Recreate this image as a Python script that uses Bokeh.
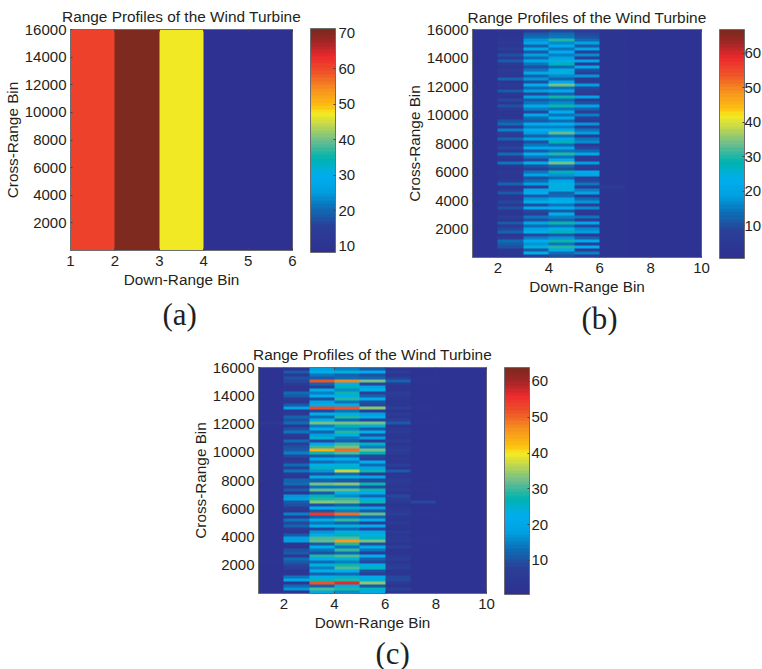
import numpy as np
from bokeh.embed import file_html
from bokeh.resources import INLINE
from bokeh.plotting import figure
from bokeh.layouts import row, column
from bokeh.models import (LinearColorMapper, ColorBar, FixedTicker, LinearAxis, Range1d, Spacer, Title)

TITLE = "Range Profiles of the Wind Turbine"
XLABEL = "Down-Range Bin"
YLABEL = "Cross-Range Bin"
Y_TICKS = [2000, 4000, 6000, 8000, 10000, 12000, 14000, 16000]

# Panel (a): range columns 1-2, 2-3, 3-4, 4-5, 5-6
a_values = [61, 71.4, 47, 8.3, 8.3]
a_x_ticks = [1, 2, 3, 4, 5, 6]
a_cb_ticks = [10, 20, 30, 40, 50, 60, 70]
a_cb_range = [8.3, 71.4]

# Panel (b): rows listed from the top (16000) to the bottom (1)
b_col_2 = [3,3,4,4,5,4,7,4,10,6,11,5,4,6,5,4,12,4,5,4,11,4,3,9,4,10,5,4,3,4,10,13,5,16,8,6,12,4,5,9,4,
           13,5,3,15,4,3,5,4,4,6,12,3,5,11,4,4,9,5,10,4,3,7,4,11,5,9,12,4,6,13,11,10,4,4,3]
b_col_3 = [7,11,13,18,21,12,22,11,19,13,21,15,10,14,22,12,18,10,23,13,19,9,20,11,14,22,16,9,21,13,11,22,
           16,23,19,12,20,10,15,22,11,23,14,9,24,10,7,14,20,10,13,19,8,21,23,11,18,24,10,22,9,7,15,10,
           21,13,20,24,9,16,23,18,25,11,24,8]
b_col_4 = [9,13,15,30,17,22,14,23,16,20,24,28,13,24,25,17,12,22,34,15,22,12,29,13,17,29,14,23,15,22,13,23,
           16,24,33,14,22,28,13,21,15,30,14,23,34,13,10,28,18,13,21,24,25,24,12,13,22,24,15,23,11,24,16,12,
           29,14,24,28,11,18,29,15,30,22,13,10]
b_col_5 = [6,9,10,13,20,11,21,8,17,7,21,5,22,10,7,18,6,5,19,9,7,5,20,6,10,20,12,7,16,8,5,18,8,15,19,6,14,17,
           5,9,13,21,7,5,19,7,5,22,21,8,9,14,6,16,20,5,13,18,7,17,5,4,14,6,21,9,17,19,5,12,22,8,23,6,16,6]
b_col_6 = [3,3,3,3,4,3,3,3,3,3,3,3,3,3,3,3,3,3,4,3,3,3,3,3,3,3,3,3,3,3,3,3,3,3,3,3,3,3,3,3,3,3,3,3,3,3,3,3,
           3,3,3,3,6,3,3,3,3,3,3,3,3,3,3,3,3,3,3,3,3,3,3,3,3,3,3,3]
b_flat = {"col_1": 2.4, "col_7": 2.2, "col_8": 2.0, "col_9": 1.9}
b_x_ticks = [2, 4, 6, 8, 10]
b_cb_ticks = [10, 20, 30, 40, 50, 60]
b_cb_range = [0.5, 66.9]

# Panel (c): rows listed from the top (16000) to the bottom (1)
c_col_2 = [3,11,5,10,9,6,3,4,13,11,5,4,11,19,4,5,12,10,13,4,10,14,6,4,13,7,10,11,15,9,4,5,13,8,14,5,4,12,
           13,6,11,4,17,18,11,10,5,4,15,5,14,9,12,5,3,11,18,18,4,3,10,11,5,13,11,9,7,3,4,14,20,4,13,17,3]
c_col_3 = [18,23,14,11,52,12,8,23,15,22,10,19,23,53,9,23,13,24,33,15,23,12,18,25,9,21,30,44,28,11,21,13,23,
           26,17,10,23,12,33,14,32,11,27,29,34,10,22,11,54,12,23,14,23,9,17,23,31,32,11,23,14,10,29,22,13,
           24,15,23,12,22,28,52,12,31,20]
c_col_4 = [15,24,12,13,48,23,27,16,28,22,29,14,22,52,14,24,29,13,33,27,16,29,24,14,12,30,33,50,31,13,22,15,
           24,26,37,13,24,11,34,14,32,24,16,30,33,12,26,15,50,14,30,12,24,13,24,26,31,46,29,14,30,13,31,25,15,
           28,31,22,13,25,29,56,24,29,16]
c_col_5 = [11,21,10,12,33,9,19,23,8,12,21,10,9,34,8,18,23,9,33,24,11,23,10,18,7,26,15,33,27,9,8,22,13,19,28,
           7,20,9,28,10,28,22,12,22,28,8,19,11,32,12,23,8,22,9,20,24,26,33,10,23,14,7,22,12,9,21,26,10,8,21,
           25,34,11,26,21]
c_col_6 = [3,6,3,8,12,5,3,4,7,5,4,3,4,8,3,6,4,8,11,3,5,6,4,3,7,3,5,7,6,3,4,3,8,3,11,3,4,6,5,4,5,3,9,7,5,3,4,5,
           7,4,3,5,3,3,6,4,5,6,3,8,3,3,5,7,4,6,8,3,4,9,9,5,3,8,4]
c_col_1 = [2,2,2,2,2,2,2,2,2,2,2,2,2,2,2,2,2,2,5,2,2,2,2,2,2,2,2,2,2,2,2,2,2,2,2,2,2,2,2,2,2,2,2,2,2,2,2,2,
           2,2,2,2,2,2,2,2,2,2,2,2,2,2,2,2,3,2,2,2,2,2,2,2,2,2,2]
c_col_7 = [2,2,2,2,3,2,2,2,2,2,2,2,2,3,2,2,2,2,3,2,2,2,2,2,2,2,2,2,2,2,2,2,2,2,2,2,2,2,3,2,3,2,2,2,9,2,2,2,
           3,2,2,2,2,2,2,2,2,3,2,2,2,2,2,2,2,2,2,2,2,2,2,2,2,2,2]
c_flat = {"col_8": 2.0, "col_9": 1.8}
c_x_ticks = [2, 4, 6, 8, 10]
c_cb_ticks = [10, 20, 30, 40, 50, 60]
c_cb_range = [0.5, 63.9]

# Colormap stops
STOP_POS = [0.0, 0.11, 0.19, 0.27, 0.34, 0.42, 0.50, 0.58, 0.625, 0.656, 0.73, 0.80, 0.88, 0.95, 1.0]
STOP_RGB = [(0x2E,0x31,0x92),(0x2B,0x3F,0x98),(0x0F,0x6C,0xB5),(0x00,0xA0,0xE0),(0x00,0xAE,0xEF),(0x00,0xB3,0xB0),
            (0x6C,0xBE,0x8E),(0xCB,0xDB,0x47),(0xF7,0xEC,0x1F),(0xFD,0xC0,0x10),(0xF7,0x94,0x1E),(0xEF,0x5A,0x28),
            (0xED,0x2A,0x2E),(0xA0,0x26,0x26),(0x7F,0x2A,0x1E)]
def build_palette(n=64):
    t = np.linspace(0, 1, n)
    rgb = [np.interp(t, STOP_POS, [c[i] for c in STOP_RGB]) for i in range(3)]
    return ["#%02x%02x%02x" % (int(r), int(g), int(b)) for r, g, b in zip(*rgb)]
PALETTE = build_palette()

FONT = "Liberation Sans"
TXT = "#231f20"
EDGE = "#6d6e71"


def panel(img, x_end, x_ticks, cb_range, cb_ticks, tag, tag_off, tag_standoff, title_standoff,
          frame, borders, cb_h, cb_dy, cb_dx, cb_standoff):
    fw, fh = frame
    bl, br, bt, bb = borders
    p = figure(frame_width=fw, frame_height=fh, min_border_left=bl, min_border_right=br,
               min_border_top=bt, min_border_bottom=bb, toolbar_location=None, output_backend="svg",
               x_range=Range1d(1, x_end), y_range=Range1d(1, 16000), tools="",
               x_axis_label=XLABEL, y_axis_label=YLABEL)
    mapper = LinearColorMapper(palette=PALETTE, low=cb_range[0], high=cb_range[1])
    arr = np.flipud(np.array(img, dtype=float))
    # repeat cells so that browser smoothing cannot blur the cell edges
    arr = np.repeat(np.repeat(arr, 30, axis=1), 8 if arr.shape[0] > 1 else 2, axis=0)
    p.image(image=[arr], x=1, y=1, dw=x_end - 1, dh=15999, color_mapper=mapper)
    p.grid.visible = False
    p.border_fill_color = None
    p.outline_line_color = EDGE
    p.xaxis.ticker = FixedTicker(ticks=x_ticks)
    p.yaxis.ticker = FixedTicker(ticks=Y_TICKS)
    for ax in (p.xaxis[0], p.yaxis[0]):
        ax.axis_line_color = EDGE
        ax.major_tick_line_color = "#444444"
        ax.major_tick_in = 2
        ax.major_tick_out = 0
        ax.minor_tick_line_color = None
        ax.major_label_text_font = FONT
        ax.major_label_text_font_size = "15px"
        ax.major_label_text_color = TXT
        ax.axis_label_text_font = FONT
        ax.axis_label_text_font_size = "15.3px"
        ax.axis_label_text_font_style = "normal"
        ax.axis_label_text_color = TXT
        ax.major_label_standoff = 4
        ax.axis_label_standoff = 2
    p.xaxis[0].major_label_standoff = 5
    p.yaxis[0].axis_label_standoff = 1
    top = LinearAxis(ticker=FixedTicker(ticks=x_ticks), major_label_overrides={t: "" for t in x_ticks},
                     major_label_standoff=0, major_tick_in=2, major_tick_out=0,
                     minor_tick_line_color=None, axis_line_color=EDGE, major_tick_line_color="#444444")
    p.add_layout(top, "above")
    p.add_layout(Title(text=TITLE, align="center", text_font=FONT, text_font_size="15.4px",
                       text_font_style="normal", text_color=TXT, standoff=title_standoff), "above")
    p.add_layout(Title(text=tag, align="left", offset=tag_off, standoff=tag_standoff,
                       text_font="Liberation Serif", text_font_size="31px",
                       text_font_style="normal", text_color=TXT), "below")
    cb = ColorBar(color_mapper=mapper, ticker=FixedTicker(ticks=cb_ticks), location=(fw + cb_dx, cb_dy),
                  width=25, height=cb_h, padding=0, margin=0, label_standoff=cb_standoff,
                  major_label_text_font=FONT, major_label_text_font_size="15px",
                  major_label_text_color=TXT, major_tick_line_color="#444444", major_tick_in=2,
                  minor_tick_line_color=None, bar_line_color=EDGE, background_fill_alpha=0,
                  border_line_color=None)
    p.add_layout(cb, "center")
    return p


n_b = len(b_col_2)
b_img = np.column_stack([np.full(n_b, b_flat["col_1"]), b_col_2, b_col_3, b_col_4, b_col_5, b_col_6,
                         np.full(n_b, b_flat["col_7"]), np.full(n_b, b_flat["col_8"]), np.full(n_b, b_flat["col_9"])])
n_c = len(c_col_2)
c_img = np.column_stack([c_col_1, c_col_2, c_col_3, c_col_4, c_col_5, c_col_6, c_col_7,
                         np.full(n_c, c_flat["col_8"]), np.full(n_c, c_flat["col_9"])])

pa = panel([a_values], 6, a_x_ticks, a_cb_range, a_cb_ticks, "(a)", 92, 8, 10, (222, 221), (62, 103, 0, 83), 224, -2, 18, 3)
pb = panel(b_img, 10, b_x_ticks, b_cb_range, b_cb_ticks, "(b)", 109, 3, 8, (229, 228), (77, 61, 0, 78), 229, -1, 18, 0)
pc = panel(c_img, 10, c_x_ticks, c_cb_range, c_cb_ticks, "(c)", 117, 0, 10, (228, 226), (78, 84, 32, 68), 227, -1, 18, 2)

root = column(row(pa, pb), row(Spacer(width=180, height=10), pc))
open("out.html", "w").write(file_html(root, INLINE))
